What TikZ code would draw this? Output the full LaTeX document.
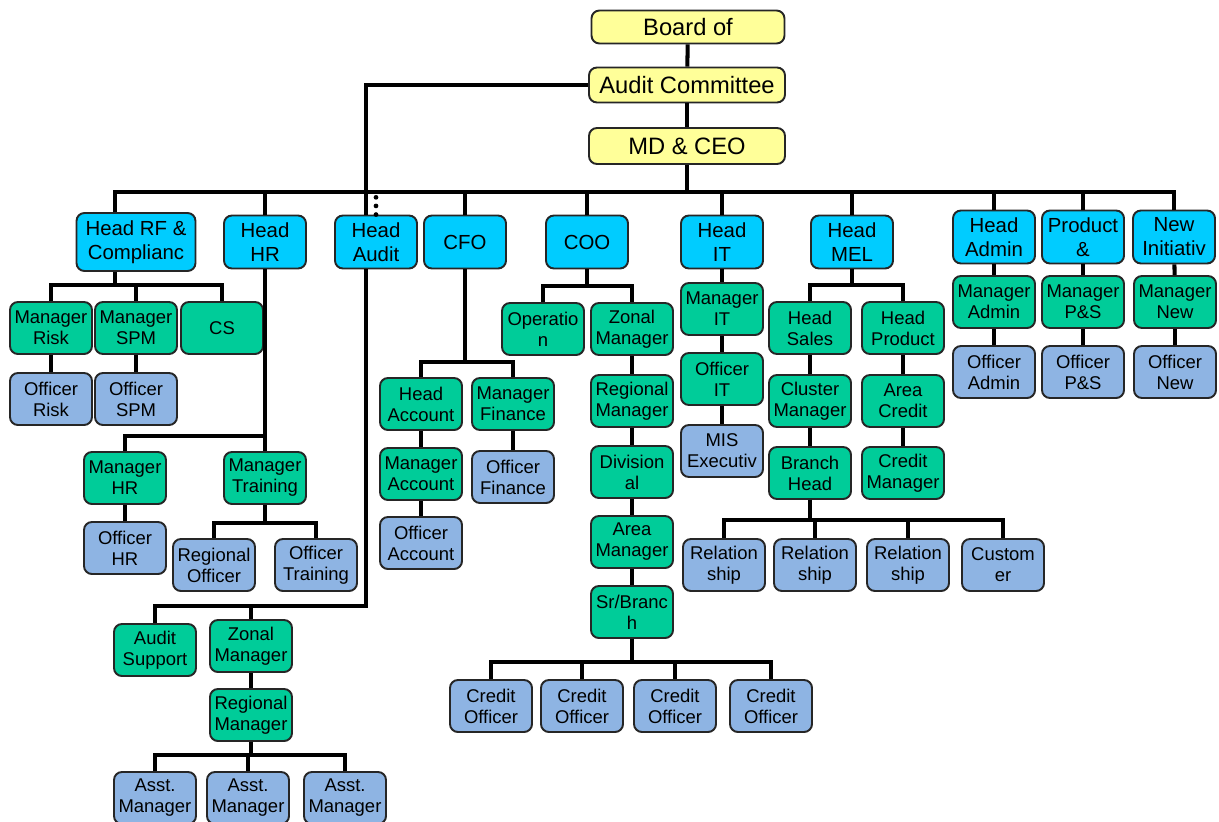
\documentclass[tikz,border=0pt]{standalone}
\usepackage{fontspec}
\setmainfont{Liberation Sans}
\definecolor{ylw}{RGB}{255,255,153}
\definecolor{cyn}{RGB}{0,204,255}
\definecolor{grn}{RGB}{0,204,153}
\definecolor{lbl}{RGB}{142,180,227}
\tikzset{
  box/.style={draw=black!85, line width=1.1pt, rounded corners=4.5pt, align=center, inner sep=1pt},
  yel/.style={box, fill=ylw, minimum width=3.92cm, minimum height=0.7cm, font=\fontsize{13.5}{16}\selectfont},
  hd/.style={box, fill=cyn, minimum width=1.64cm, minimum height=1.06cm, font=\fontsize{11.6}{13.6}\selectfont},
  mg/.style={box, fill=grn, minimum width=1.64cm, minimum height=1.04cm, font=\fontsize{10.5}{12}\selectfont},
  st/.style={mg, fill=lbl},
  link/.style={line width=2.3pt},
  dots/.style={line width=2.7pt, line cap=round, dash pattern=on 0pt off 4.9pt}
}
\begin{document}
\begin{tikzpicture}[x=0.02cm,y=-0.02cm]
\useasboundingbox (0,0) rectangle (1219,821);
\node[yel,minimum width=3.86cm,minimum height=0.66cm] (board) at (688,27) {Board of};
\node[yel] (ac) at (687,85) {Audit Committee};
\node[yel,minimum height=0.72cm] (ceo) at (687,146) {MD \& CEO};

\node[hd,minimum width=2.38cm,minimum height=1.16cm] (hrf) at (136,242) {Head RF \&\\Complianc};
\node[hd] (hhr) at (265,242) {Head\\HR};
\node[hd] (haud) at (376,242) {Head\\Audit};
\node[hd] (cfo) at (465,242) {CFO};
\node[hd] (coo) at (587,242) {COO};
\node[hd] (hit) at (722,242) {Head\\IT};
\node[hd] (mel) at (852,242) {Head\\MEL};
\node[hd] (hadm) at (994,237) {Head\\Admin};
\node[hd] (prod) at (1083,237) {Product\\ \&};
\node[hd] (newi) at (1174,237) {New\\Initiativ};

\node[mg] (mrisk) at (51,328) {Manager\\Risk};
\node[mg] (mspm) at (136,328) {Manager\\SPM};
\node[mg] (cs) at (222,328) {CS};
\node[st] (orisk) at (51,399) {Officer\\Risk};
\node[st] (ospm) at (136,399) {Officer\\SPM};

\node[mg] (mhr) at (125,478) {Manager\\HR};
\node[mg] (mtrain) at (265,478) {Manager\\Training};
\node[st] (ohr) at (125,548) {Officer\\HR};
\node[st] (regoff) at (214,565) {Regional\\Officer};
\node[st] (otrain) at (316,565) {Officer\\Training};

\node[mg] (asup) at (155,650) {Audit\\Support};
\node[mg] (azm) at (251,646) {Zonal\\Manager};
\node[mg] (arm) at (251,715) {Regional\\Manager};
\node[st] (asst1) at (155,798) {Asst.\\Manager};
\node[st] (asst2) at (248,798) {Asst.\\Manager};
\node[st] (asst3) at (345,798) {Asst.\\Manager};

\node[mg] (hacc) at (421,404) {Head\\Account};
\node[mg] (mfin) at (513,404) {Manager\\Finance};
\node[mg] (macc) at (421,474) {Manager\\Account};
\node[st] (ofin) at (513,477) {Officer\\Finance};
\node[st] (oacc) at (421,543) {Officer\\Account};

\node[mg] (oper) at (543,329) {Operatio\\n};
\node[mg] (czm) at (632,329) {Zonal\\Manager};
\node[mg] (crm) at (632,401) {Regional\\Manager};
\node[mg] (div) at (632,472) {Division\\al};
\node[mg] (area) at (632,542) {Area\\Manager};
\node[mg] (srb) at (632,612) {Sr/Branc\\h};
\node[st] (co1) at (491,706) {Credit\\Officer};
\node[st] (co2) at (582,706) {Credit\\Officer};
\node[st] (co3) at (675,706) {Credit\\Officer};
\node[st] (co4) at (771,706) {Credit\\Officer};

\node[mg] (mit) at (722,309) {Manager\\IT};
\node[mg] (oit) at (722,379) {Officer\\IT};
\node[st] (mis) at (722,451) {MIS\\Executiv};

\node[mg] (hsales) at (810,328) {Head\\Sales};
\node[mg] (hprod) at (903,328) {Head\\Product};
\node[mg] (clus) at (810,401) {Cluster\\Manager};
\node[mg] (acred) at (903,401) {Area\\Credit};
\node[mg] (bhead) at (810,473) {Branch\\Head};
\node[mg] (cman) at (903,473) {Credit\\Manager};
\node[st] (rel1) at (724,565) {Relation\\ship};
\node[st] (rel2) at (815,565) {Relation\\ship};
\node[st] (rel3) at (908,565) {Relation\\ship};
\node[st] (cust) at (1003,565) {Custom\\er};

\node[mg] (madm) at (994,302) {Manager\\Admin};
\node[mg] (mps) at (1083,302) {Manager\\P\&S};
\node[mg] (mnew) at (1175,302) {Manager\\New};
\node[st] (oadm) at (994,372) {Officer\\Admin};
\node[st] (ops) at (1083,372) {Officer\\P\&S};
\node[st] (onew) at (1175,372) {Officer\\New};

\coordinate (rf) at (115,285);
\coordinate (abus) at (366,606);

\draw[link] (board) -- (ac);
\draw[link] (ac) -- (ceo);
\draw[link] (ceo.south) -- ++(0,27) coordinate (bus);
\draw[link] (bus) -| (hrf.north -| rf);
\foreach \c in {hhr,cfo,coo,hit,mel,hadm,prod,newi}
  \draw[link] (bus) -| (\c.north);
\draw[dots] (haud.north) -- (haud.north |- bus);
\draw[link] (ac.west) -| (haud.north -| abus);

\draw[link] (hrf.south -| rf) -- (rf);
\foreach \c in {mrisk,mspm,cs}
  \draw[link] (rf) -| (\c.north);
\foreach \c in {mhr,mtrain}
  \draw[link] (hhr.south) -- ++(0,167) -| (\c.north);
\foreach \c in {regoff,otrain}
  \draw[link] (mtrain.south) -- ++(0,18) -| (\c.north);

\draw[link] (haud.south -| abus) -- (abus) -| (asup.north);
\draw[link] (abus) -| (azm.north);
\foreach \c in {asst1,asst2,asst3}
  \draw[link] (arm.south) -- ++(0,13) -| (\c.north);

\foreach \c in {hacc,mfin}
  \draw[link] (cfo.south) -- ++(0,93) -| (\c.north);
\foreach \c in {oper,czm}
  \draw[link] (coo.south) -- ++(0,17) -| (\c.north);
\foreach \c in {co1,co2,co3,co4}
  \draw[link] (srb.south) -- ++(0,23) -| (\c.north);
\foreach \c in {hsales,hprod}
  \draw[link] (mel.south) -- ++(0,16) -| (\c.north);
\foreach \c in {rel1,rel2,rel3,cust}
  \draw[link] (bhead.south) -- ++(0,20) -| (\c.north);

\foreach \a/\b in {mrisk/orisk,mspm/ospm,mhr/ohr,azm/arm,hacc/macc,macc/oacc,mfin/ofin,
  czm/crm,crm/div,div/area,area/srb,hit/mit,mit/oit,oit/mis,hsales/clus,clus/bhead,
  hprod/acred,acred/cman,hadm/madm,madm/oadm,prod/mps,mps/ops,newi/mnew,mnew/onew}
  \draw[link] (\a) -- (\b);
\end{tikzpicture}
\end{document}
